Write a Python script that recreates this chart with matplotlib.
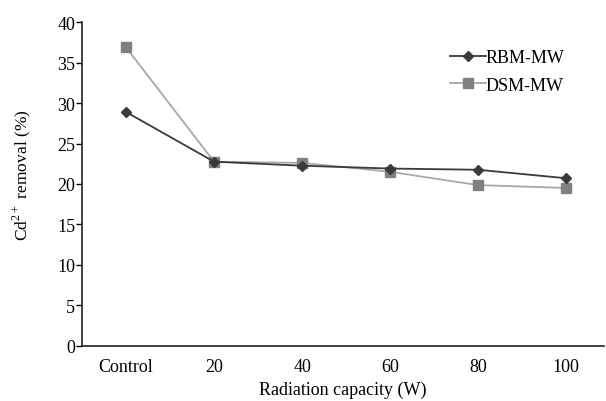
import matplotlib
matplotlib.use("Agg")
import matplotlib.pyplot as plt

categories = ["Control", "20", "40", "60", "80", "100"]
rbm_mw = [28.9, 22.75, 22.25, 21.9, 21.75, 20.7]
dsm_mw = [36.9, 22.75, 22.6, 21.5, 19.85, 19.5]
y_ticks = [0, 5, 10, 15, 20, 25, 30, 35, 40]

plt.rcParams["font.family"] = ["Liberation Serif", "DejaVu Serif"]
plt.rcParams["mathtext.fontset"] = "custom"
plt.rcParams["mathtext.rm"] = "Liberation Serif"

fs = 13
fig = plt.figure(figsize=(6.06, 4.02), dpi=100)
ax = fig.add_axes([82 / 606, 55.5 / 402, 522 / 606, 323.2 / 402])

x = list(range(len(categories)))
ax.plot(x, rbm_mw, color="#3a3a3a", lw=1.3, marker="D", ms=5,
        mfc="#3a3a3a", mec="#3a3a3a", label="RBM-MW", zorder=3)
ax.plot(x, dsm_mw, color="#a8a8a8", lw=1.3, marker="s", ms=6.5,
        mfc="#808080", mec="#808080", label="DSM-MW", zorder=2)

ax.set_xlim(-0.5, 5.43)
ax.set_ylim(0, 40)
ax.set_xticks(x)
ax.set_xticklabels(categories)
ax.set_yticks(y_ticks)
ax.tick_params(axis="x", length=0, labelsize=fs, pad=9)
ax.tick_params(axis="y", length=4, width=1, direction="out", labelsize=fs, pad=1)
for side in ("top", "right"):
    ax.spines[side].set_visible(False)
for side in ("left", "bottom"):
    ax.spines[side].set_linewidth(1.2)
    ax.spines[side].set_color("#222222")

ax.set_xlabel("Radiation capacity (W)", fontsize=fs, labelpad=4)
ax.set_ylabel("Cd$^{2+}$ removal (%)", fontsize=12.5)
ax.yaxis.set_label_coords(-0.094, 0.53)

ax.legend(loc="upper right", bbox_to_anchor=(0.956, 0.968), frameon=False,
          fontsize=fs, handlelength=2.0, handletextpad=0.0, labelspacing=0.6)

fig.savefig("out.png", dpi=100)
